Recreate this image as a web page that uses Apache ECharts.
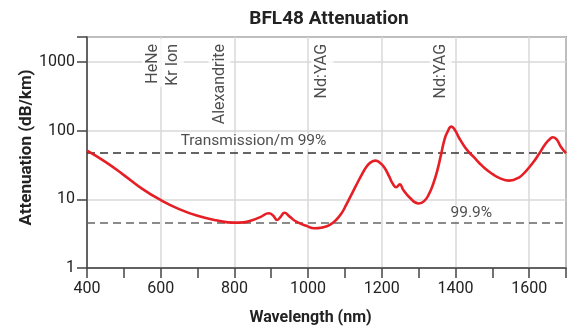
<!DOCTYPE html>
<html>
<head>
<meta charset="utf-8">
<script src="https://cdn.jsdelivr.net/npm/echarts@6/dist/echarts.min.js"></script>
<style>html,body{margin:0;padding:0;background:#fff}#c{width:575px;height:328px}</style>
</head>
<body>
<div id="c"></div>
<script>
const wavelengths = [400,450,500,550,600,650,700,750,800,825,850,870,894,905,916,926,936,950,968,995,1017,1040,1058,1076,1092,1103,1117,1130,1145,1158,1170,1183,1195,1207,1220,1230,1239,1249,1258,1275,1300,1315,1329,1340,1351,1361,1370,1378,1389,1398,1410,1423,1437,1450,1464,1482,1500,1520,1546,1573,1592,1609,1627,1645,1657,1665,1675,1686,1700];
const attenuation = [51,35,22.5,14.2,9.75,7.2,5.75,4.95,4.57,4.62,5.0,5.5,6.25,5.8,5.0,5.6,6.36,5.6,4.72,4.13,3.78,3.9,4.2,5.0,6.4,8.2,11.5,15.8,22.5,29.5,34.5,36.5,34,29,21.5,16.8,15,16.5,13.8,10.7,8.7,9.4,12.2,17,26.6,45,73,95,114,103,78,60,48,41,34,27.5,23.4,20.3,18.7,20.9,26,33.4,46,65,76,80,74,58,46.8];
const xTicks = [400,600,800,1000,1200,1400,1600];
const yTicks = [1,10,100,1000];
const laserNames = ['HeNe','Kr Ion','Alexandrite','Nd:YAG','Nd:YAG'];
const laserPos = [579,633,760,1039,1360];
const transmissionLevels = [47.5,4.6];
const transmissionLabels = ['Transmission/m 99%','99.9%'];
const transmissionLabelPos = [[852,70],[1443,6.2]];

const FONT = '"Roboto", sans-serif';
const chart = echarts.init(document.getElementById('c'), null, {renderer:'canvas'});
const laserTop = 2154;
chart.setOption({
  animation:false,
  backgroundColor:'#fff',
  title:{text:'BFL48 Attenuation', left:324, top:5, textAlign:'center',
    textStyle:{fontFamily:FONT, fontWeight:'bold', fontSize:19, color:'#222'}},
  grid:{left:87, right:9, top:37, bottom:60, outerBoundsMode:'none', containLabel:false,
    show:true, borderColor:'#444', borderWidth:1.5, backgroundColor:'transparent'},
  xAxis:{type:'value', min:400, max:1700, interval:200,
    name:'Wavelength (nm)', nameLocation:'middle', nameGap:42, nameMoveOverlap:false,
    nameTextStyle:{fontFamily:FONT, fontWeight:'bold', fontSize:16, color:'#222', padding:[0,32,0,0]},
    axisLine:{show:true, lineStyle:{color:'#444', width:1.5}},
    axisTick:{show:true, inside:false, length:10, lineStyle:{color:'#444', width:1.5}},
    minorTick:{show:true, splitNumber:2, length:10, lineStyle:{color:'#444', width:1.5}},
    axisLabel:{margin:13, fontFamily:FONT, fontSize:16, color:'#222',
      formatter:v=> xTicks.includes(v) ? String(v) : ''},
    splitLine:{show:true, lineStyle:{color:'#d8d8d8', width:1.5}}
  },
  yAxis:{type:'log', logBase:10, min:1, max:2300,
    name:'Attenuation (dB/km)', nameLocation:'middle', nameGap:52, nameMoveOverlap:false,
    nameTextStyle:{fontFamily:FONT, fontWeight:'bold', fontSize:17, color:'#222', padding:[0,0,0,10]},
    axisLine:{show:true, lineStyle:{color:'#444', width:1.5}},
    axisTick:{show:true, inside:false, length:10, lineStyle:{color:'#444', width:1.5}},
    axisLabel:{margin:12, fontFamily:FONT, fontSize:16, color:'#222',
      formatter:v=> yTicks.includes(Math.round(v)) ? String(Math.round(v)) : ''},
    splitLine:{show:true, lineStyle:{color:'#d8d8d8', width:1.5}}
  },
  series:[
    {type:'line', data:wavelengths.map((w,i)=>[w,attenuation[i]]), smooth:true, showSymbol:false,
      lineStyle:{color:'#e61e25', width:2.6}, z:5,
      markLine:{silent:true, symbol:'none', label:{show:false},
        data: transmissionLevels.map((v,i)=>({yAxis:v, lineStyle:{color: i===0?'#333':'#666', type:[8,5], width:1.5}}))}
    },
    {type:'scatter', symbolSize:0, z:4,
      data: laserPos.map((p,i)=>({value:[p,laserTop], name:laserNames[i]})),
      label:{show:true, position:'inside', rotate:90, align:'right', verticalAlign:'middle',
        formatter:p=>p.name, fontFamily:FONT, fontSize:16, color:'#222',
        backgroundColor:'#fff', padding:[3,5,3,3]}
    },
    {type:'scatter', symbolSize:0, z:4,
      data: transmissionLabelPos.map((p,i)=>({value:p, name:transmissionLabels[i]})),
      label:{show:true, position:'inside', formatter:p=>p.name, fontFamily:FONT, fontSize:15.5, color:'#222',
        backgroundColor:'#fff', padding:[0,2]}
    }
  ]
});
</script>
</body>
</html>
